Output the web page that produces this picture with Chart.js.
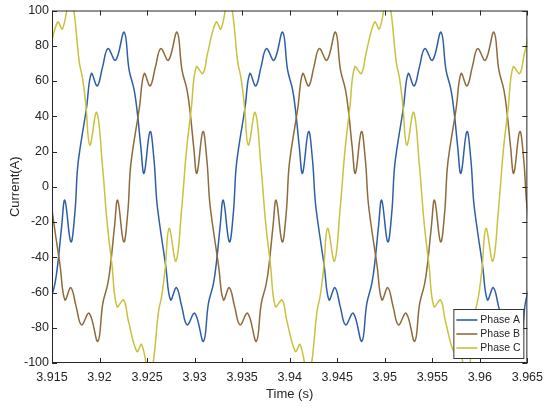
<!DOCTYPE html>
<html>
<head>
<meta charset="utf-8">
<script src="https://cdn.jsdelivr.net/npm/chart.js@4.4.0/dist/chart.umd.min.js"></script>
<style>
  html, body { margin: 0; padding: 0; background: #fff; }
</style>
</head>
<body>
<canvas id="chart" width="550" height="407"></canvas>
<script>
// series names
const phaseNames = ['Phase A', 'Phase B', 'Phase C'];

// Phase A - time (s) / current (A)
const timeA = [3.91335, 3.91426, 3.91478, 3.91531, 3.91565, 3.91601, 3.91635, 3.91698, 3.91740, 3.91768, 3.91796, 3.91862, 3.91914, 3.91976, 3.92032, 3.92088, 3.92169,
  3.92259, 3.92311, 3.92364, 3.92398, 3.92434, 3.92468, 3.92531, 3.92573, 3.92601, 3.92629, 3.92695, 3.92747, 3.92809, 3.92865, 3.92921, 3.93002,
  3.93093, 3.93145, 3.93198, 3.93232, 3.93268, 3.93302, 3.93365, 3.93407, 3.93435, 3.93463, 3.93529, 3.93581, 3.93643, 3.93699, 3.93755, 3.93836,
  3.93926, 3.93978, 3.94031, 3.94065, 3.94101, 3.94135, 3.94198, 3.94240, 3.94268, 3.94296, 3.94362, 3.94414, 3.94476, 3.94532, 3.94588, 3.94669,
  3.94759, 3.94811, 3.94864, 3.94898, 3.94934, 3.94968, 3.95031, 3.95073, 3.95101, 3.95129, 3.95195, 3.95247, 3.95309, 3.95365, 3.95421, 3.95502,
  3.95592, 3.95644, 3.95697, 3.95731, 3.95767, 3.95801, 3.95864, 3.95906, 3.95934, 3.95962, 3.96028, 3.96080, 3.96142, 3.96198, 3.96254, 3.96335,
  3.96426, 3.96478, 3.96531];
const currentA = [-71.8, -87.7, -66.3, -55, -41.8, -22.8, -7.7, -31.3, -15.2, 10, 22, 44.4, 64.2, 57.2, 68, 78.4, 71.8,
  87.7, 66.3, 55, 41.8, 22.8, 7.7, 31.3, 15.2, -7.5, -20, -44.4, -64.2, -57.2, -68, -78.4, -71.8,
  -87.7, -66.3, -55, -41.8, -22.8, -7.7, -31.3, -15.2, 10, 22, 44.4, 64.2, 57.2, 68, 78.4, 71.8,
  87.7, 66.3, 55, 41.8, 22.8, 7.7, 31.3, 15.2, -7.5, -20, -44.4, -64.2, -57.2, -68, -78.4, -71.8,
  -87.7, -66.3, -55, -41.8, -22.8, -7.7, -31.3, -15.2, 10, 22, 44.4, 64.2, 57.2, 68, 78.4, 71.8,
  87.7, 66.3, 55, 41.8, 22.8, 7.7, 31.3, 15.2, -7.5, -20, -44.4, -64.2, -57.2, -68, -78.4, -71.8,
  -87.7, -66.3, -55];

// Phase B
const timeB = [3.91323, 3.91357, 3.91420, 3.91462, 3.91490, 3.91518, 3.91584, 3.91636, 3.91698, 3.91754, 3.91810, 3.91891,
  3.91982, 3.92034, 3.92087, 3.92121, 3.92157, 3.92191, 3.92254, 3.92296, 3.92324, 3.92352, 3.92418, 3.92470, 3.92532, 3.92588, 3.92644, 3.92725,
  3.92815, 3.92867, 3.92920, 3.92954, 3.92990, 3.93024, 3.93087, 3.93129, 3.93157, 3.93185, 3.93251, 3.93303, 3.93365, 3.93421, 3.93477, 3.93558,
  3.93649, 3.93701, 3.93754, 3.93788, 3.93824, 3.93858, 3.93921, 3.93963, 3.93991, 3.94019, 3.94085, 3.94137, 3.94199, 3.94255, 3.94311, 3.94392,
  3.94482, 3.94534, 3.94587, 3.94621, 3.94657, 3.94691, 3.94754, 3.94796, 3.94824, 3.94852, 3.94918, 3.94970, 3.95032, 3.95088, 3.95144, 3.95225,
  3.95315, 3.95367, 3.95420, 3.95454, 3.95490, 3.95524, 3.95587, 3.95629, 3.95657, 3.95685, 3.95751, 3.95803, 3.95865, 3.95921, 3.95977, 3.96058,
  3.96148, 3.96200, 3.96253, 3.96287, 3.96323, 3.96357, 3.96420, 3.96462, 3.96490, 3.96518, 3.96584];
const currentB = [22.8, 7.7, 31.3, 15.2, -7.5, -20, -44.4, -64.2, -57.2, -68, -78.4, -71.8,
  -87.7, -66.3, -55, -41.8, -22.8, -7.7, -31.3, -15.2, 10, 22, 44.4, 64.2, 57.2, 68, 78.4, 71.8,
  87.7, 66.3, 55, 41.8, 22.8, 7.7, 31.3, 15.2, -7.5, -20, -44.4, -64.2, -57.2, -68, -78.4, -71.8,
  -87.7, -66.3, -55, -41.8, -22.8, -7.7, -31.3, -15.2, 10, 22, 44.4, 64.2, 57.2, 68, 78.4, 71.8,
  87.7, 66.3, 55, 41.8, 22.8, 7.7, 31.3, 15.2, -7.5, -20, -44.4, -64.2, -57.2, -68, -78.4, -71.8,
  -87.7, -66.3, -55, -41.8, -22.8, -7.7, -31.3, -15.2, 10, 22, 44.4, 64.2, 57.2, 68, 78.4, 71.8,
  87.7, 66.3, 55, 41.8, 22.8, 7.7, 31.3, 15.2, -7.5, -20, -44.4];

// Phase C (peaks run past the +/-100 limits and get clipped)
const timeC = [3.91350, 3.91420, 3.91470, 3.91560, 3.91610,
  3.91690, 3.91730, 3.91786, 3.91821, 3.91856, 3.91898, 3.91970, 3.92030, 3.92079, 3.92131, 3.92183, 3.92253, 3.92303, 3.92393, 3.92443,
  3.92524, 3.92564, 3.92620, 3.92655, 3.92690, 3.92732, 3.92804, 3.92864, 3.92913, 3.92965, 3.93017, 3.93087, 3.93137, 3.93227, 3.93277,
  3.93357, 3.93397, 3.93453, 3.93488, 3.93523, 3.93565, 3.93637, 3.93697, 3.93746, 3.93798, 3.93850, 3.93920, 3.93970, 3.94060, 3.94110,
  3.94191, 3.94231, 3.94287, 3.94322, 3.94357, 3.94399, 3.94471, 3.94531, 3.94580, 3.94632, 3.94684, 3.94754, 3.94804, 3.94894, 3.94944,
  3.95024, 3.95064, 3.95120, 3.95155, 3.95190, 3.95232, 3.95304, 3.95364, 3.95413, 3.95465, 3.95517, 3.95587, 3.95637, 3.95727, 3.95777,
  3.95857, 3.95897, 3.95953, 3.95988, 3.96023, 3.96065, 3.96137, 3.96197, 3.96246, 3.96298, 3.96350, 3.96420, 3.96470, 3.96560];
const currentC = [68, 64.3, 76, 93.5, 89.5,
  108, 100, 71, 61.6, 46.5, 23.6, 42.2, 12.4, -19.8, -44.4, -68, -64.3, -76, -93.5, -89.5,
  -108, -100, -71, -61.6, -46.5, -23.6, -42.2, -12.4, 19.8, 44.4, 68, 64.3, 76, 93.5, 89.5,
  108, 100, 71, 61.6, 46.5, 23.6, 42.2, 12.4, -19.8, -44.4, -68, -64.3, -76, -93.5, -89.5,
  -108, -100, -71, -61.6, -46.5, -23.6, -42.2, -12.4, 19.8, 44.4, 68, 64.3, 76, 93.5, 89.5,
  108, 100, 71, 61.6, 46.5, 23.6, 42.2, 12.4, -19.8, -44.4, -68, -64.3, -76, -93.5, -89.5,
  -108, -100, -71, -61.6, -46.5, -23.6, -42.2, -12.4, 19.8, 44.4, 68, 64.3, 76, 93.5];

// axis ticks
const xTicks = [3.915, 3.92, 3.925, 3.93, 3.935, 3.94, 3.945, 3.95, 3.955, 3.96, 3.965];
const yTicks = [-100, -80, -60, -40, -20, 0, 20, 40, 60, 80, 100];

const colors = ['#2f5ea8', '#8d6b3b', '#c8c23c'];
const axisColor = '#262626';
const fontFamily = '"Liberation Sans", Arial, sans-serif';

function toPoints(t, v) {
  return t.map((x, i) => ({x: x, y: v[i]}));
}

// matlab style box, inward ticks and legend inside the axes
const matlabFrame = {
  id: 'matlabFrame',
  afterDraw(chart) {
    const ctx = chart.ctx;
    const a = chart.chartArea;
    const xs = chart.scales.x, ys = chart.scales.y;
    ctx.save();
    ctx.strokeStyle = axisColor;
    ctx.lineWidth = 1;
    ctx.beginPath();
    ctx.rect(a.left + 0.5, a.top + 0.5, a.right - a.left - 1, a.bottom - a.top - 1);
    xTicks.forEach(v => {
      const px = Math.round(xs.getPixelForValue(v)) + 0.5;
      ctx.moveTo(px, a.bottom); ctx.lineTo(px, a.bottom - 5);
      ctx.moveTo(px, a.top); ctx.lineTo(px, a.top + 5);
    });
    yTicks.forEach(v => {
      const py = Math.round(ys.getPixelForValue(v)) + 0.5;
      ctx.moveTo(a.left, py); ctx.lineTo(a.left + 5, py);
      ctx.moveTo(a.right, py); ctx.lineTo(a.right - 5, py);
    });
    ctx.stroke();

    // legend
    const boxW = 70, boxH = 49;
    const boxL = a.right - 4 - boxW, boxT = a.bottom - 5 - boxH;
    ctx.fillStyle = '#fff';
    ctx.fillRect(boxL, boxT, boxW, boxH);
    ctx.strokeStyle = '#333';
    ctx.strokeRect(boxL + 0.5, boxT + 0.5, boxW, boxH);
    ctx.font = '10.5px ' + fontFamily;
    ctx.textBaseline = 'middle';
    ctx.textAlign = 'left';
    phaseNames.forEach((name, i) => {
      const ry = boxT + 11 + i * 14;
      ctx.strokeStyle = colors[i];
      ctx.lineWidth = 1.6;
      ctx.beginPath();
      ctx.moveTo(boxL + 3, ry); ctx.lineTo(boxL + 24, ry);
      ctx.stroke();
      ctx.fillStyle = axisColor;
      ctx.fillText(name, boxL + 27, ry);
    });
    ctx.restore();
  }
};

const ctx = document.querySelector('#chart').getContext('2d');
const chart = new Chart(ctx, {
  type: 'line',
  data: {
    datasets: [
      {label: phaseNames[0], data: toPoints(timeA, currentA), borderColor: colors[0], order: 3},
      {label: phaseNames[1], data: toPoints(timeB, currentB), borderColor: colors[1], order: 2},
      {label: phaseNames[2], data: toPoints(timeC, currentC), borderColor: colors[2], order: 1}
    ]
  },
  options: {
    responsive: false,
    animation: false,
    devicePixelRatio: 1,
    layout: {padding: {top: 10, right: 19, left: 0, bottom: 0}},
    elements: {
      line: {borderWidth: 1.5, tension: 0.4, fill: false},
      point: {radius: 0, hoverRadius: 0}
    },
    plugins: {
      legend: {display: false},
      tooltip: {enabled: false}
    },
    scales: {
      x: {
        type: 'linear',
        min: 3.915,
        max: 3.965,
        grid: {display: false, drawTicks: false},
        border: {display: false},
        afterBuildTicks: s => { s.ticks = xTicks.map(v => ({value: v})); },
        afterFit: s => { s.height = 44; },
        ticks: {
          color: axisColor,
          padding: 7,
          maxRotation: 0,
          autoSkip: false,
          font: {family: fontFamily, size: 12.5},
          callback: v => String(parseFloat(Number(v).toFixed(4)))
        },
        title: {
          display: true,
          text: 'Time (s)',
          color: axisColor,
          padding: {top: 0, bottom: 5},
          font: {family: fontFamily, size: 13}
        }
      },
      y: {
        min: -100,
        max: 100,
        grid: {display: false, drawTicks: false},
        border: {display: false},
        afterBuildTicks: s => { s.ticks = yTicks.map(v => ({value: v})); },
        afterFit: s => { s.width = 52; },
        ticks: {
          color: axisColor,
          padding: 3,
          font: {family: fontFamily, size: 12.5}
        },
        title: {
          display: true,
          text: 'Current(A)',
          color: axisColor,
          padding: {top: 8, bottom: 0},
          font: {family: fontFamily, size: 13}
        }
      }
    }
  },
  plugins: [matlabFrame]
});
</script>
</body>
</html>
